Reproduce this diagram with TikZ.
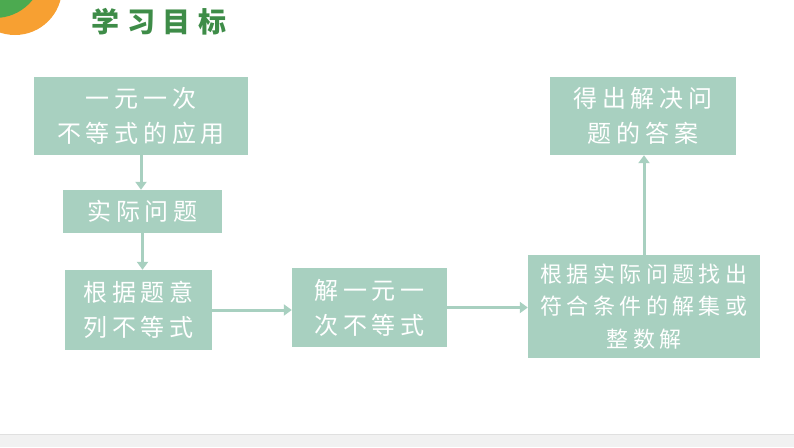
\documentclass[tikz,border=0pt]{standalone}
\usepackage{fontspec}
\newfontfamily\cjk[LetterSpace=20]{Noto Sans CJK SC}
\newfontfamily\cjktitle[LetterSpace=28]{Noto Sans CJK SC}
\usetikzlibrary{arrows.meta}
\definecolor{boxfill}{RGB}{168,208,192}
\definecolor{titlegreen}{RGB}{62,140,72}
\definecolor{decoorange}{RGB}{247,160,50}
\definecolor{decogreen}{RGB}{76,170,80}
\definecolor{barbg}{RGB}{241,241,241}
\tikzset{
  flowbox/.style={rectangle, fill=boxfill, text=white, align=center, inner sep=0pt,
    font=\cjk\fontsize{24}{35}\selectfont},
  flowarrow/.style={draw=boxfill, line width=3pt, -{Triangle[width=11pt,length=8pt]}}
}
\begin{document}
\begin{tikzpicture}[x=1pt,y=-1pt]
\useasboundingbox (0,0) rectangle (794,447);
% decoration top-left
\begin{scope}
\clip (0,0) rectangle (794,447);
\fill[decoorange] (15,-12) circle[radius=47];
\fill[decogreen] (-5,-30) circle[radius=48];
\end{scope}
% bottom bar
\fill[barbg] (0,434) rectangle (794,447);
\draw[black!12, line width=0.8pt] (0,434) -- (794,434);
% title
\node[text=titlegreen, font=\cjktitle\bfseries\fontsize{28}{30}\selectfont] (title) at (159,22) {学习目标};
% boxes
\node[flowbox, minimum width=214pt, minimum height=78pt] (b1) at (141,116) {一元一次\\不等式的应用};
\node[flowbox, minimum width=159pt, minimum height=43pt] (b2) at (142.5,211.5) {实际问题};
\node[flowbox, minimum width=147pt, minimum height=80pt] (b3) at (138.5,310) {根据题意\\列不等式};
\node[flowbox, minimum width=155pt, minimum height=79pt] (b4) at (369.5,307.5) {解一元一\\次不等式};
\node[flowbox, minimum width=232pt, minimum height=103pt, font=\cjk\fontsize{22}{32.5}\selectfont] (b5) at (644,306.5) {根据实际问题找出\\符合条件的解集或\\整数解};
\node[flowbox, minimum width=186pt, minimum height=78pt] (b6) at (643,116) {得出解决问\\题的答案};
% connectors
\draw[flowarrow] (b1.south) -- (b1.south |- b2.north);
\draw[flowarrow] (b2.south) -- (b2.south |- b3.north);
\draw[flowarrow] (b3.east) -- (b3.east -| b4.west);
\draw[flowarrow] (b4.east) -- (b4.east -| b5.west);
\draw[flowarrow] (b5.north) -- (b5.north |- b6.south);
\end{tikzpicture}
\end{document}
